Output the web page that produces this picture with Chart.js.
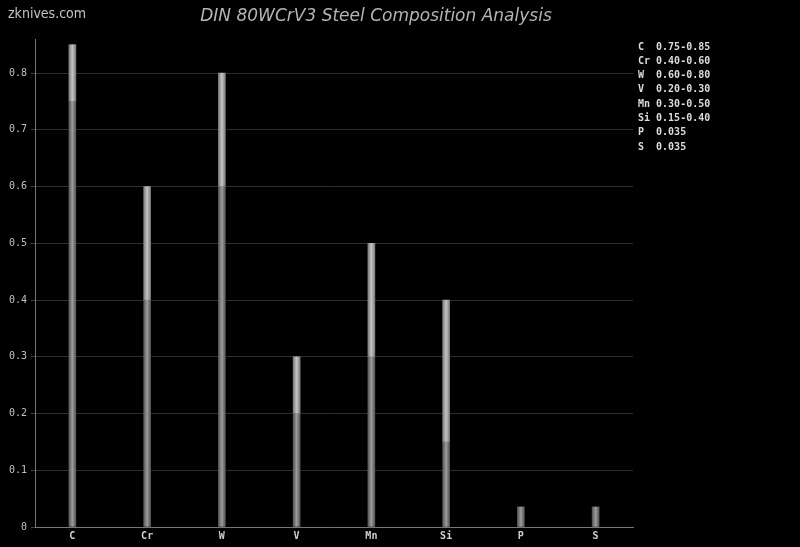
<!DOCTYPE html>
<html><head><meta charset="utf-8">
<script src="https://cdn.jsdelivr.net/npm/chart.js@4/dist/chart.umd.min.js"></script>
<style>html,body{margin:0;padding:0;background:#000;}#wrap{width:800px;height:547px;position:relative;}</style>
</head><body><div id="wrap"><canvas id="c" width="800" height="547"></canvas></div>
<script>
const categories = ['C','Cr','W','V','Mn','Si','P','S'];
const minValues = [0.75,0.40,0.60,0.20,0.30,0.15,0.035,0.035];
const maxValues = [0.85,0.60,0.80,0.30,0.50,0.40,0.035,0.035];
const legendLines = ['C  0.75-0.85','Cr 0.40-0.60','W  0.60-0.80','V  0.20-0.30','Mn 0.30-0.50','Si 0.15-0.40','P  0.035','S  0.035'];
const titleText = 'DIN 80WCrV3 Steel Composition Analysis';
const watermark = 'zknives.com';
const yTicks = [0,0.1,0.2,0.3,0.4,0.5,0.6,0.7,0.8];

const rangeValues = maxValues.map((m,i)=>+(m - minValues[i]).toFixed(3));

function grad(ctx, edge, mid){
  const chart = ctx.chart;
  if(!chart.chartArea) return mid;
  const x = chart.scales.x.getPixelForValue(ctx.dataIndex);
  const g = chart.ctx.createLinearGradient(x-3.5,0,x+3.5,0);
  g.addColorStop(0, edge); g.addColorStop(0.5, mid); g.addColorStop(1, edge);
  return g;
}

const extras = {
  id:'extras',
  afterDraw(chart){
    const c = chart.ctx;
    c.save();
    c.fillStyle = '#b4b4b4';
    c.font = 'italic 17px "DejaVu Sans"';
    c.textAlign='center'; c.textBaseline='middle';
    c.fillText(titleText, 376, 17);
    c.fillStyle = '#c4c4c4';
    c.font = '14px "DejaVu Sans Condensed", "DejaVu Sans"';
    c.textAlign='left';
    c.fillText(watermark, 8, 14);
    c.fillStyle = '#dcdcdc';
    c.font = 'bold 10px "DejaVu Sans Mono"';
    legendLines.forEach((t,i)=>c.fillText(t, 638, 47 + i*14.3));
    c.restore();
  }
};

new Chart(document.getElementById('c'), {
  type:'bar',
  data:{
    labels: categories,
    datasets:[
      {label:'min', data:minValues, backgroundColor:(ctx)=>grad(ctx,'#555555','#9c9c9c'), barThickness:7},
      {label:'range', data:rangeValues, backgroundColor:(ctx)=>grad(ctx,'#7c7c7c','#c4c4c4'), barThickness:7}
    ]
  },
  options:{
    responsive:false, animation:false,
    layout:{padding:{left:0,right:167,top:39,bottom:0}},
    plugins:{legend:{display:false}, title:{display:false}, tooltip:{enabled:false}},
    scales:{
      x:{stacked:true, offset:true,
        grid:{display:false, drawTicks:false},
        border:{color:'#777', width:1},
        ticks:{color:'#d0d0d0', font:{family:'DejaVu Sans Mono', size:10, weight:'bold'}, padding:3},
        afterFit(s){ s.height = 20; }
      },
      y:{stacked:true, min:0, max:0.86,
        afterBuildTicks(s){ s.ticks = yTicks.map(v=>({value:v})); },
        grid:{color:'#2e2e2e', tickLength:4, tickColor:'#444'},
        border:{color:'#777', width:1},
        ticks:{color:'#c0c0c0', font:{family:'DejaVu Sans Mono', size:10}, padding:4,
          callback:(v)=> v===0 ? '0' : v.toFixed(1)},
        afterFit(s){ s.width = 35; }
      }
    }
  },
  plugins:[extras]
});
</script></body></html>
